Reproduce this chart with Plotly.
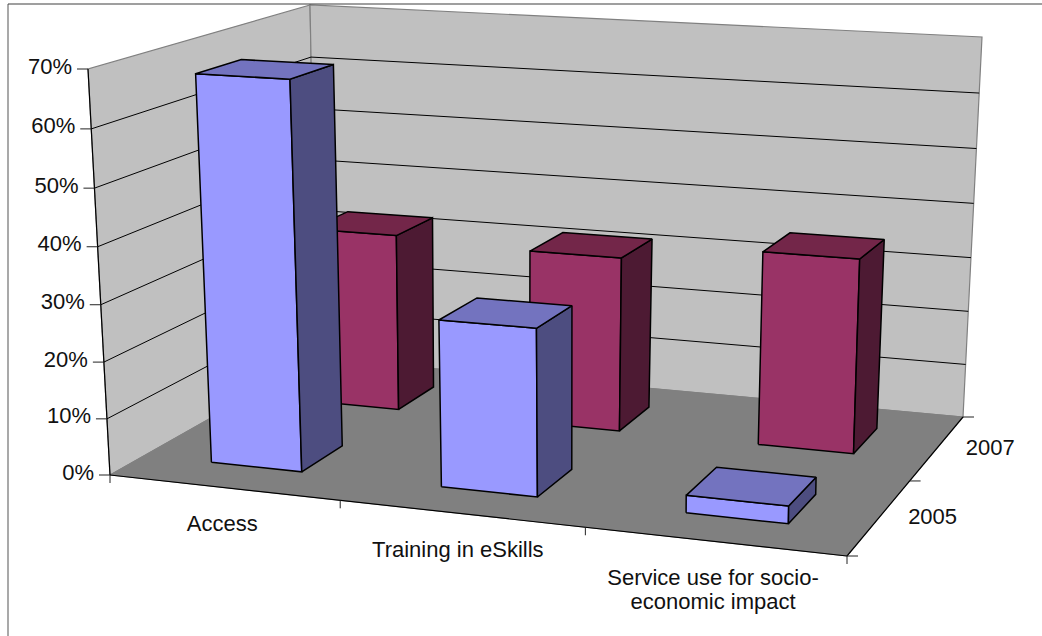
import numpy as np
import plotly.graph_objects as go

# Chart data
categories = ["Access", "Training in eSkills", "Service use for socio-\neconomic impact"]
series_names = ["2005", "2007"]
values_2005 = [0.68, 0.29, 0.03]
values_2007 = [0.33, 0.32, 0.35]
value_ticks = [0.0, 0.1, 0.2, 0.3, 0.4, 0.5, 0.6, 0.7]
value_tick_labels = ["0%", "10%", "20%", "30%", "40%", "50%", "60%", "70%"]

# Box extents in chart units: categories along u, series along v, value along w
U_MAX, V_MAX, W_MAX = 3.0, 2.0, 0.7
GAP = 0.3  # side margin of a bar inside its category/series slot
VALUE_FORESHORTENING = 0.963  # values further up are slightly further from the viewer

# Page width and height
W, H = 1042, 636

# Perspective calibration: where the box's floor and ceiling corners land on the page,
# ordered front-left, front-right, back-right, back-left
floor_corners = [(110, 475), (847, 556), (963, 417), (317, 358)]
ceiling_corners = [(88, 69), (853, 112), (982, 37), (310, 5)]


def homography(corners):
    src = [(0, 0), (U_MAX, 0), (U_MAX, V_MAX), (0, V_MAX)]
    rows = []
    for (u, v), (px, py) in zip(src, corners):
        rows.append([u, v, 1, 0, 0, 0, -px * u, -px * v, -px])
        rows.append([0, 0, 0, u, v, 1, -py * u, -py * v, -py])
    _, _, vt = np.linalg.svd(np.array(rows, dtype=float))
    return vt[-1].reshape(3, 3)


FLOOR_H = homography(floor_corners)
CEILING_H = homography(ceiling_corners)


def apply(h, u, v):
    x, y, s = h @ np.array([u, v, 1.0])
    return np.array([x / s, y / s])


def project(u, v, w):
    # A point sits between its floor and ceiling positions according to its value
    r = w / W_MAX
    k = VALUE_FORESHORTENING
    t = k * r / (1 + (k - 1) * r)
    return tuple((1 - t) * apply(FLOOR_H, u, v) + t * apply(CEILING_H, u, v))


fig = go.Figure()


def polygon(points, fill, line="black", width=1.5):
    xy = [project(*p) for p in points]
    xy.append(xy[0])
    fig.add_trace(go.Scatter(
        x=[p[0] for p in xy], y=[p[1] for p in xy], mode="lines",
        fill="toself", fillcolor=fill,
        line=dict(color=line, width=width),
        hoverinfo="skip", showlegend=False,
    ))


def segment(a, b, color="black", width=1.0):
    fig.add_trace(go.Scatter(
        x=[a[0], b[0]], y=[a[1], b[1]], mode="lines",
        line=dict(color=color, width=width), hoverinfo="skip", showlegend=False,
    ))


def label(x, y, text, anchor="middle center"):
    fig.add_trace(go.Scatter(
        x=[x], y=[y], mode="text", text=[text], textposition=anchor,
        textfont=dict(family="Liberation Sans", size=22, color="#111111"),
        hoverinfo="skip", showlegend=False,
    ))


WALL, FLOOR, EDGE = "#C0C0C0", "#808080", "#808080"

# Walls and floor
polygon([(0, 0, 0), (0, V_MAX, 0), (0, V_MAX, W_MAX), (0, 0, W_MAX)], WALL, EDGE, 1.2)
polygon([(0, V_MAX, 0), (U_MAX, V_MAX, 0), (U_MAX, V_MAX, W_MAX), (0, V_MAX, W_MAX)], WALL, EDGE, 1.2)
polygon([(0, 0, 0), (U_MAX, 0, 0), (U_MAX, V_MAX, 0), (0, V_MAX, 0)], FLOOR, EDGE, 1.0)

# Gridlines run along the left wall and across the back wall
for tick in value_ticks[1:-1]:
    pts = [project(0, 0, tick), project(0, V_MAX, tick), project(U_MAX, V_MAX, tick)]
    segment(pts[0], pts[1])
    segment(pts[1], pts[2])

# Axis lines on the outer edges
segment(project(0, 0, 0), project(0, 0, W_MAX), "black", 1.2)
segment(project(0, 0, 0), project(U_MAX, 0, 0), "black", 1.2)
segment(project(U_MAX, 0, 0), project(U_MAX, V_MAX, 0), "black", 1.2)

# Value axis ticks and labels
for tick, text in zip(value_ticks, value_tick_labels):
    px, py = project(0, 0, tick)
    segment((px - 11, py), (px, py), "#222222", 1.0)
    label(px - 16, py - 1, text, "middle left")

# Category axis ticks and labels
for i in range(len(categories) + 1):
    px, py = project(i, 0, 0)
    segment((px, py), (px, py + 8), "#222222", 1.0)
label_offsets = [(-1, 38), (-3, 38), (-1, 38)]
for i, name in enumerate(categories):
    px, py = project(i + 0.5, 0, 0)
    dx, dy = label_offsets[i]
    for k, line in enumerate(name.split("\n")):
        label(px + dx, py + dy + 24 * k, line)

# Series axis ticks and labels
for j in range(len(series_names) + 1):
    px, py = project(U_MAX, j, 0)
    segment((px, py), (px + 11, py), "#222222", 1.0)
for j, name in enumerate(series_names):
    px, py = project(U_MAX, j + 0.5, 0)
    label(px + 53, py + 2, name)


def bar(i, j, value, front, side, top):
    u0, u1 = i + GAP, i + 1 - GAP
    v0, v1 = j + GAP, j + 1 - GAP
    polygon([(u0, v0, 0), (u1, v0, 0), (u1, v0, value), (u0, v0, value)], front)
    polygon([(u1, v0, 0), (u1, v1, 0), (u1, v1, value), (u1, v0, value)], side)
    polygon([(u0, v0, value), (u1, v0, value), (u1, v1, value), (u0, v1, value)], top)


# Back row first so the front row overlaps it
for i, value in enumerate(values_2007):
    bar(i, 1, value, "#993366", "#4D1A33", "#732649")
for i, value in enumerate(values_2005):
    bar(i, 0, value, "#9999FF", "#4D4D80", "#7373BF")

# Chart area border
segment((8, H), (8, 4), "#707070", 1.2)
segment((8, 4), (W, 4), "#404040", 1.2)

fig.update_layout(
    width=W, height=H, margin=dict(l=0, r=0, t=0, b=0),
    paper_bgcolor="white", plot_bgcolor="white", showlegend=False,
    xaxis=dict(range=[0, W], visible=False, fixedrange=True),
    yaxis=dict(range=[H, 0], visible=False, fixedrange=True),
)
fig.write_html("out.html", config={"displayModeBar": False})
